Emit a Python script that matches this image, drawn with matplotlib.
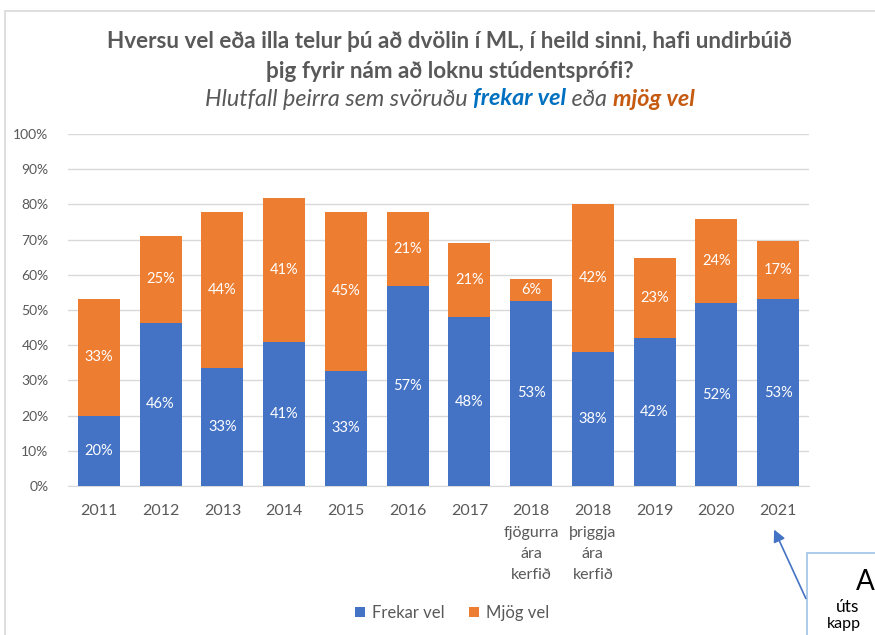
import matplotlib
matplotlib.use("Agg")
import matplotlib.pyplot as plt
import numpy as np
from matplotlib.patches import Rectangle, FancyArrowPatch

plt.rcParams['font.family'] = ['Lato', 'DejaVu Sans']

# Data
categories = ["2011", "2012", "2013", "2014", "2015", "2016", "2017",
              "2018\nfjögurra\nára\nkerfið", "2018\nþriggja\nára\nkerfið",
              "2019", "2020", "2021"]
frekar_vel = [20.0, 46.4, 33.4, 40.9, 32.8, 56.7, 47.9, 52.6, 38.1, 42.0, 51.9, 53.1]
mjog_vel = [33.1, 24.7, 44.4, 40.8, 45.0, 21.1, 21.1, 6.3, 41.9, 22.9, 24.0, 16.6]
series_names = ["Frekar vel", "Mjög vel"]

BLUE = "#4472C4"
ORANGE = "#ED7D31"
GREY = "#595959"

fig = plt.figure(figsize=(8.75, 6.35), dpi=100)
W, H = 875, 635

def fx(px):
    return px / W

def fy(py):
    return 1 - py / H

# chart area border (Excel frame)
fig.patches.append(Rectangle((fx(5), fy(700)), 1.2, fy(11) - fy(700),
                             transform=fig.transFigure, fill=False,
                             edgecolor="#D9D9D9", linewidth=1.2))

ax = fig.add_axes([fx(68), fy(486), fx(809) - fx(68), fy(134) - fy(486)])
x = np.arange(len(categories))
b1 = ax.bar(x, frekar_vel, width=0.68, color=BLUE, label=series_names[0], zorder=3)
b2 = ax.bar(x, mjog_vel, width=0.68, bottom=frekar_vel, color=ORANGE,
            label=series_names[1], zorder=3)

for bars, vals, bottoms in [(b1, frekar_vel, [0] * len(x)), (b2, mjog_vel, frekar_vel)]:
    for rect, v, b in zip(bars, vals, bottoms):
        ax.text(rect.get_x() + rect.get_width() / 2, b + v / 2, f"{v:.0f}%",
                ha="center", va="center", color="white", fontsize=10.5, zorder=4)

ax.set_xlim(-0.5, len(categories) - 0.5)
ax.set_ylim(0, 100)
ax.set_yticks(np.arange(0, 101, 10))
ax.set_yticklabels([f"{t}%" for t in range(0, 101, 10)])
ax.set_xticks(x)
ax.set_xticklabels(categories, linespacing=1.68, va="top")
ax.tick_params(axis="y", length=0, pad=14, labelsize=10, labelcolor=GREY)
ax.tick_params(axis="x", length=0, pad=13, labelsize=11.5, labelcolor=GREY)
ax.yaxis.grid(True, color="#D9D9D9", linewidth=1, zorder=0)
for s in ["left", "right", "top"]:
    ax.spines[s].set_visible(False)
ax.spines["bottom"].set_color("#D9D9D9")
ax.set_axisbelow(True)

# Title
fig.text(0.514, fy(42), "Hversu vel eða illa telur þú að dvölin í ML, í heild sinni, hafi undirbúið",
         ha="center", va="center", fontsize=16.2, fontweight="bold", color=GREY)
fig.text(0.514, fy(71), "þig fyrir nám að loknu stúdentsprófi?",
         ha="center", va="center", fontsize=16.2, fontweight="bold", color=GREY)

# Subtitle with coloured words
parts = [("Hlutfall þeirra sem svöruðu ", GREY, "normal"),
         ("frekar vel", "#0070C0", "bold"),
         (" eða ", GREY, "normal"),
         ("mjög vel", "#C55A11", "bold")]
renderer = fig.canvas.get_renderer()
texts = []
for s, c, w in parts:
    t = fig.text(0, fy(99), s, ha="left", va="center", fontsize=16.8,
                 style="italic", fontweight=w, color=c)
    texts.append(t)
widths = [t.get_window_extent(renderer).width for t in texts]
total = sum(widths)
start = 0.514 * W - total / 2
for t, wd in zip(texts, widths):
    t.set_x(start / W)
    start += wd

# Legend
fig.legend(handles=[b1, b2], labels=series_names, loc="center",
           bbox_to_anchor=(fx(452), fy(613)), ncol=2, frameon=False,
           fontsize=12, labelcolor=GREY, handlelength=0.6, handleheight=0.6,
           columnspacing=1.5, handletextpad=0.4)

# Callout box (partly outside the picture)
fig.patches.append(Rectangle((fx(807), fy(700)), 0.3, fy(553) - fy(700),
                             transform=fig.transFigure, facecolor="white",
                             edgecolor="#9DC3E6", linewidth=1.2, zorder=5))
arrow = FancyArrowPatch((fx(807), fy(601)), (fx(773), fy(527)),
                        transform=fig.transFigure, arrowstyle="-|>",
                        mutation_scale=18, color=BLUE, linewidth=1.2, zorder=6)
fig.patches.append(arrow)
fig.text(fx(856), fy(582), "A", fontsize=20, color="black", va="center", ha="left", zorder=7)
fig.text(fx(836), fy(607), "úts", fontsize=12.5, color="black", va="center", ha="left", zorder=7)
fig.text(fx(827), fy(624), "kapp", fontsize=11.5, color="black", va="center", ha="left", zorder=7)

fig.savefig("out.png", dpi=100)
